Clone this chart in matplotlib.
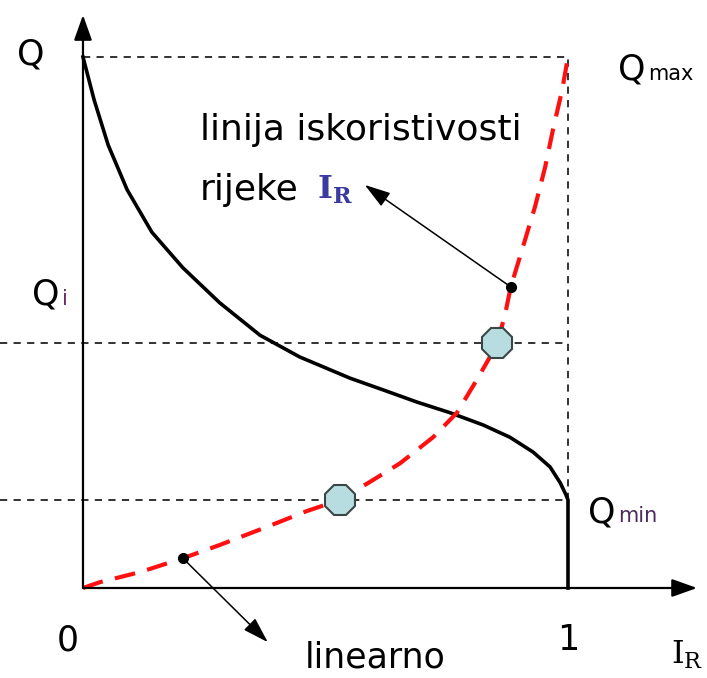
import matplotlib
matplotlib.use("Agg")
import matplotlib.pyplot as plt

# flow duration curve (black) - IR in 0..1, Q scaled so Qmax = 1
ir_flow = [0.000, 0.023, 0.052, 0.091, 0.142, 0.206, 0.282, 0.365, 0.447, 0.551,
           0.619, 0.689, 0.757, 0.825, 0.880, 0.928, 0.963, 0.984, 0.996,
           1.000, 1.000]
q_flow = [1.000, 0.919, 0.834, 0.750, 0.670, 0.603, 0.537, 0.476, 0.435, 0.395,
          0.373, 0.350, 0.330, 0.307, 0.284, 0.256, 0.228, 0.198, 0.175,
          0.166, 0.000]

# utilisation line of the river (red dashed)
ir_util = [0.000, 0.035, 0.118, 0.206, 0.282, 0.379, 0.462, 0.530, 0.592, 0.654,
           0.722, 0.771, 0.812, 0.839, 0.854, 0.870, 0.882, 0.907, 0.932, 0.953,
           0.969, 0.988, 1.000]
q_util = [0.000, 0.011, 0.030, 0.056, 0.081, 0.115, 0.145, 0.166, 0.200, 0.235,
          0.284, 0.330, 0.392, 0.435, 0.461, 0.514, 0.567, 0.642, 0.718, 0.793,
          0.863, 0.938, 1.000]

q_max = 1.0
q_i = 0.461
q_min = 0.166

# highlighted points
oct_ir = [0.530, 0.854]
oct_q = [0.166, 0.461]
dot_ir = [0.206, 0.882]
dot_q = [0.056, 0.567]

fig = plt.figure(figsize=(7.07, 6.78), dpi=100)
ax = fig.add_axes([0, 0, 1, 1])
ax.set_xlim(-0.1711, 1.2866)
ax.set_ylim(-0.1695, 1.1073)
ax.axis("off")

# axes with arrows
arrow = dict(arrowstyle="-|>,head_length=0.7,head_width=0.25", lw=1.6, color="black",
             mutation_scale=22, shrinkA=0, shrinkB=0)
ax.annotate("", xy=(1.266, 0), xytext=(0, 0), arrowprops=arrow)
ax.annotate("", xy=(0, 1.079), xytext=(0, 0), arrowprops=arrow)

# guide lines
dash = dict(color="#222222", lw=1.3, ls=(0, (4, 3.5)))
ax.plot([0, 1], [q_max, q_max], **dash)
ax.plot([-0.1711, 1], [q_i, q_i], **dash)
ax.plot([-0.1711, 1], [q_min, q_min], **dash)
ax.plot([1, 1], [q_min, q_max], **dash)

# curves
ax.plot(ir_flow, q_flow, color="black", lw=2.6, solid_joinstyle="round")
ax.plot(ir_util, q_util, color="#ff1010", lw=3.0, ls=(0, (5, 3)))

ax.plot(oct_ir, oct_q, ls="none", marker="8", ms=23, mfc="#b8dde0", mec="#3a4646", mew=1.5)
ax.plot(dot_ir, dot_q, ls="none", marker="o", ms=7, color="black")

# annotation arrows
pointer = dict(arrowstyle="-|>,head_length=0.8,head_width=0.25", lw=1.1, color="black",
               mutation_scale=20, shrinkA=0, shrinkB=0)
ax.annotate("", xy=(0.581, 0.759), xytext=(dot_ir[1], dot_q[1]), arrowprops=pointer)
ax.annotate("", xy=(0.381, -0.102), xytext=(dot_ir[0], dot_q[0]), arrowprops=pointer)

# labels
big = 25
small = 15
ax.text(-0.136, 0.985, "Q", fontsize=big, va="baseline", ha="left")
ax.text(1.103, 0.957, "Q", fontsize=big, va="baseline", ha="left")
ax.text(1.165, 0.957, "max", fontsize=small, va="baseline", ha="left")
ax.text(-0.105, 0.533, "Q", fontsize=big, va="baseline", ha="left")
ax.text(-0.043, 0.533, "i", fontsize=small, va="baseline", ha="left", color="#6a2a6a")
ax.text(1.041, 0.124, "Q", fontsize=big, va="baseline", ha="left")
ax.text(1.103, 0.124, "min", fontsize=small, va="baseline", ha="left", color="#4a2a5a")

ax.text(0.241, 0.862, "linija iskoristivosti", fontsize=26, va="center", ha="left")
ax.text(0.241, 0.750, "rijeke", fontsize=26, va="center", ha="left")
ax.text(0.483, 0.750, r"$\mathbf{I}_{\mathbf{R}}$", fontsize=23, va="center", ha="left",
        color="#3a3aa0", math_fontfamily="dejavuserif")

ax.text(-0.031, -0.098, "0", fontsize=big, va="center", ha="center")
ax.text(1.0, -0.098, "1", fontsize=big, va="center", ha="center")
ax.text(1.245, -0.126, r"$\mathrm{I}_{\mathrm{R}}$", fontsize=23, va="center", ha="center",
        math_fontfamily="dejavuserif")
ax.text(0.602, -0.150, "linearno", fontsize=big, va="baseline", ha="center")

fig.savefig("out.png", dpi=100)
